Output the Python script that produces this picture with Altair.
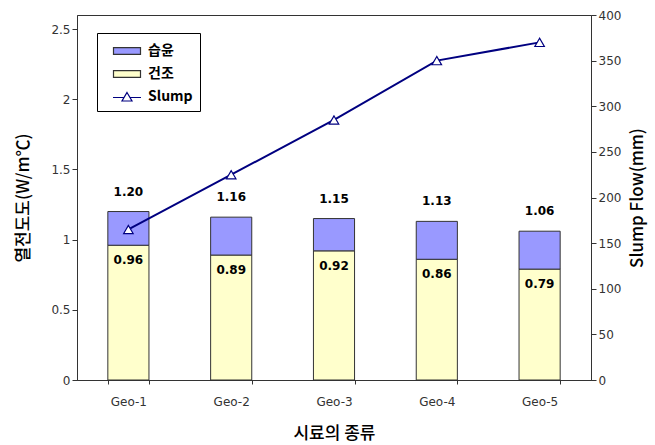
import altair as alt
import pandas as pd

# Thermal conductivity (W/m℃) of each sample, dry and wet, and slump flow (mm)
categories = ["Geo-1", "Geo-2", "Geo-3", "Geo-4", "Geo-5"]
dry_values = [0.96, 0.89, 0.92, 0.86, 0.79]
wet_values = [1.20, 1.16, 1.15, 1.13, 1.06]
slump_values = [165, 225, 285, 350, 370]

series_names = ["습윤", "건조", "Slump"]
series_fill = ["#9999FF", "#FFFFCC", "white"]
series_stroke = ["#333333", "#333333", "#000080"]
series_shape = [
    "M-1.35,-0.33H1.35V0.33H-1.35Z",
    "M-1.35,-0.33H1.35V0.33H-1.35Z",
    "M-1.4,0.05H-0.25M0.25,0.05H1.4M0,-0.45L0.5,0.4H-0.5Z",
]

rows = []
for c, d, w in zip(categories, dry_values, wet_values):
    rows.append({"cat": c, "series": "건조", "y0": 0.0, "y1": d})
    rows.append({"cat": c, "series": "습윤", "y0": d, "y1": w})
bar_df = pd.DataFrame(rows)
label_df = pd.DataFrame({"cat": categories, "dry": dry_values, "wet": wet_values})
slump_df = pd.DataFrame({"cat": categories, "slump": slump_values})

num_font = "DejaVu Sans"
kr_font = "Noto Sans CJK KR"

x_enc = alt.X(
    "cat:N",
    sort=categories,
    scale=alt.Scale(paddingInner=0.6, paddingOuter=0.3),
    axis=alt.Axis(
        title="시료의 종류", labelAngle=0, tickBand="extent", tickSize=4,
        labelPadding=12, titlePadding=18, titleFont=kr_font, titleFontSize=17,
        titleFontWeight=500,
    ),
)

fill_scale = alt.Scale(domain=series_names, range=series_fill)

bars = alt.Chart(bar_df).mark_bar(stroke="#333333", strokeWidth=1).encode(
    x=x_enc,
    y=alt.Y(
        "y0:Q",
        scale=alt.Scale(domain=[0, 2.5]),
        axis=alt.Axis(
            values=[0, 0.5, 1, 1.5, 2, 2.5], format="~g", grid=False,
            title="열전도도(W/m℃)", titleFont=kr_font, titleFontSize=17,
            titleFontWeight=500, titlePadding=18,
        ),
    ),
    y2="y1:Q",
    fill=alt.Fill(
        "series:N",
        scale=fill_scale,
        legend=alt.Legend(
            title=None, orient="none", legendX=20, legendY=18,
            strokeColor="black", fillColor="white", padding=7,
            labelFont=kr_font, labelFontSize=14, labelFontWeight="bold",
            # non-breaking spaces widen the legend box on the right
            labelExpr="datum.label + '\u00a0\u00a0\u00a0\u00a0'",
            symbolSize=400, symbolStrokeWidth=1.2, rowPadding=5,
            symbolOffset=12, labelOffset=10,
        ),
    ),
)

# Legend-only layer: carries the shared fill/stroke/shape scales, draws no marks
legend_keys = alt.Chart(bar_df).transform_filter("false").mark_point(filled=True).encode(
    fill=alt.Fill("series:N", scale=fill_scale),
    stroke=alt.Stroke("series:N", scale=alt.Scale(domain=series_names, range=series_stroke)),
    shape=alt.Shape("series:N", scale=alt.Scale(domain=series_names, range=series_shape)),
)

wet_labels = alt.Chart(label_df).mark_text(
    baseline="bottom", dy=-13, font=num_font, fontSize=12, fontWeight="bold", color="black"
).encode(x=alt.X("cat:N", sort=categories), y="wet:Q", text=alt.Text("wet:Q", format=".2f"))

dry_labels = alt.Chart(label_df).mark_text(
    baseline="top", dy=10, font=num_font, fontSize=12, fontWeight="bold", color="black"
).encode(x=alt.X("cat:N", sort=categories), y="dry:Q", text=alt.Text("dry:Q", format=".2f"))

y_right = alt.Y(
    "slump:Q",
    scale=alt.Scale(domain=[0, 400]),
    axis=alt.Axis(
        orient="right", values=list(range(0, 401, 50)), grid=False,
        title="Slump Flow(mm)", titleAngle=270, titleFont=kr_font, titleFontSize=17,
        titleFontWeight=500, titlePadding=26,
    ),
)

line = alt.Chart(slump_df).mark_line(color="#000080", strokeWidth=2).encode(
    x=alt.X("cat:N", sort=categories), y=y_right
)
points = alt.Chart(slump_df).mark_point(
    shape="triangle-up", filled=True, fill="white", stroke="#000080",
    strokeWidth=1.2, size=90, opacity=1,
).encode(x=alt.X("cat:N", sort=categories), y=y_right)

left = alt.layer(bars, legend_keys, wet_labels, dry_labels)
right = alt.layer(line, points)

chart = (
    alt.layer(left, right)
    .resolve_scale(y="independent")
    .properties(
        width=514, height=365,
        autosize=alt.AutoSizeParams(type="none"),
        padding={"left": 77, "top": 15, "right": 64, "bottom": 65},
        background="white",
    )
    .configure_view(stroke="#333333", strokeWidth=1)
    .configure_axis(
        labelFont=num_font, labelFontSize=12, labelColor="#333333",
        domainColor="#333333", tickColor="#333333", titleColor="black",
    )
)

chart.save("out.html", embed_options={"renderer": "svg", "actions": False})
